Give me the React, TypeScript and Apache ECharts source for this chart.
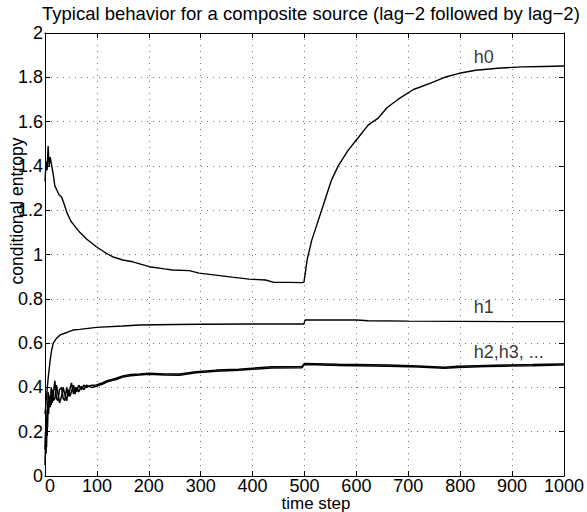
import React, { useEffect, useRef } from "react";
import * as echarts from "echarts";

const titleText = "Typical behavior for a composite source (lag\u22122 followed by lag\u22122)";
const xName = "time step";
const yName = "conditional entropy";

const h0T = [0, 2, 4, 6, 8, 10, 13, 16, 19, 23, 27, 32, 38, 42, 50, 60, 67, 80, 99, 115, 130, 150, 169, 201, 230, 246, 278, 297, 329, 360, 393, 425, 441, 470, 495, 499, 505, 514, 533, 552, 565, 584, 603, 623, 642, 660, 680, 710, 743, 770, 798, 830, 872, 920, 960, 1000];
const h0V = [1.33, 1.42, 1.38, 1.49, 1.4, 1.44, 1.4, 1.36, 1.31, 1.29, 1.27, 1.26, 1.22, 1.19, 1.15, 1.12, 1.1, 1.07, 1.035, 1.01, 0.99, 0.975, 0.967, 0.945, 0.935, 0.93, 0.927, 0.916, 0.907, 0.898, 0.889, 0.885, 0.874, 0.874, 0.873, 0.875, 0.975, 1.065, 1.2, 1.336, 1.4, 1.47, 1.526, 1.585, 1.616, 1.665, 1.7, 1.745, 1.774, 1.8, 1.818, 1.832, 1.841, 1.847, 1.849, 1.851];

const h1T = [0, 3, 6, 10, 13, 16, 22, 29, 42, 54, 67, 99, 150, 182, 250, 300, 400, 499, 501, 600, 623, 700, 800, 900, 1000];
const h1V = [0.28, 0.36, 0.44, 0.524, 0.57, 0.6, 0.621, 0.637, 0.648, 0.659, 0.662, 0.671, 0.677, 0.682, 0.684, 0.685, 0.686, 0.686, 0.704, 0.704, 0.701, 0.699, 0.698, 0.697, 0.697];

const h23T = [0, 1, 2, 3, 4, 5, 6, 7, 8, 10, 12, 14, 16, 19, 22, 25, 28, 32, 35, 38, 42, 45, 48, 51, 55, 58, 61, 65, 70, 75, 80, 90, 99, 110, 120, 137, 150, 165, 182, 201, 230, 259, 291, 330, 373, 437, 495, 500, 520, 565, 661, 720, 770, 795, 850, 885, 940, 993, 1000];
const h2V = [0.05, 0.14, 0.22, 0.13, 0.3, 0.22, 0.38, 0.28, 0.36, 0.31, 0.4, 0.33, 0.37, 0.43, 0.35, 0.34, 0.39, 0.4, 0.35, 0.34, 0.4, 0.36, 0.39, 0.42, 0.37, 0.4, 0.38, 0.41, 0.39, 0.41, 0.4, 0.41, 0.411, 0.42, 0.43, 0.441, 0.452, 0.458, 0.46, 0.464, 0.46, 0.46, 0.471, 0.478, 0.482, 0.493, 0.494, 0.508, 0.507, 0.504, 0.501, 0.497, 0.491, 0.495, 0.499, 0.501, 0.503, 0.506, 0.506];
const h3V = [0.12, 0.2, 0.1, 0.26, 0.18, 0.33, 0.3, 0.37, 0.31, 0.36, 0.32, 0.39, 0.34, 0.35, 0.41, 0.37, 0.33, 0.36, 0.4, 0.37, 0.34, 0.39, 0.36, 0.38, 0.41, 0.37, 0.4, 0.38, 0.405, 0.39, 0.41, 0.4, 0.405, 0.414, 0.425, 0.436, 0.447, 0.453, 0.456, 0.459, 0.456, 0.455, 0.466, 0.473, 0.477, 0.488, 0.489, 0.503, 0.502, 0.499, 0.496, 0.492, 0.486, 0.49, 0.494, 0.496, 0.498, 0.501, 0.501];

const labelNames = ["h0", "h1", "h2,h3, ..."];
const labelX = [826, 826, 826];
const labelY = [1.892, 0.761, 0.56];

const FONT = "'Liberation Sans', Arial, Helvetica, sans-serif";

function pairs(t: number[], v: number[]) {
  return t.map((x, i) => [x, v[i]]);
}

export default function App() {
  const ref = useRef<HTMLDivElement>(null);
  useEffect(() => {
    if (!ref.current) return;
    const chart = echarts.init(ref.current, undefined, { renderer: "svg" });
    const lineCommon = {
      type: "line" as const,
      showSymbol: false,
      symbol: "none",
      xAxisIndex: 0,
      yAxisIndex: 0,
      silent: true,
    };
    const axisLineStyle = { lineStyle: { color: "#000", width: 1 } };
    const tickStyle = { show: true, inside: true, length: 5, lineStyle: { color: "#000", width: 1 } };
    const gridLine = { show: true, lineStyle: { color: "#777", width: 1, type: [1, 5] as any } };
    chart.setOption({
      animation: false,
      backgroundColor: "#fff",
      title: {
        text: titleText,
        left: 42,
        top: 4,
        padding: 0,
        textStyle: { fontFamily: FONT, fontSize: 18.5, fontWeight: "normal", color: "#000" },
      },
      grid: { left: 45, right: 20, top: 33, bottom: 36, containLabel: false },
      xAxis: [
        {
          type: "value",
          min: 0,
          max: 1000,
          interval: 100,
          position: "bottom",
          axisLine: { show: true, onZero: false, ...axisLineStyle },
          axisTick: tickStyle,
          splitLine: gridLine,
          axisLabel: {
            show: true,
            margin: 2,
            alignMinLabel: "left",
            fontFamily: FONT,
            fontSize: 18,
            lineHeight: 15,
            color: "#000",
            formatter: (v: number) => String(v),
          },
        },
        {
          type: "value",
          min: 0,
          max: 1000,
          interval: 100,
          position: "top",
          axisLine: { show: true, onZero: false, ...axisLineStyle },
          axisTick: tickStyle,
          splitLine: { show: false },
          axisLabel: { show: false },
        },
      ],
      yAxis: [
        {
          type: "value",
          min: 0,
          max: 2,
          interval: 0.2,
          position: "left",
          axisLine: { show: true, onZero: false, ...axisLineStyle },
          axisTick: tickStyle,
          splitLine: gridLine,
          axisLabel: {
            show: true,
            margin: 2,
            fontFamily: FONT,
            fontSize: 18,
            color: "#000",
            formatter: (v: number) => String(Math.round(v * 10) / 10),
          },
        },
        {
          type: "value",
          min: 0,
          max: 2,
          interval: 0.2,
          position: "right",
          axisLine: { show: true, onZero: false, ...axisLineStyle },
          axisTick: tickStyle,
          splitLine: { show: false },
          axisLabel: { show: false },
        },
      ],
      series: [
        { ...lineCommon, name: "h0", data: pairs(h0T, h0V), lineStyle: { color: "#000", width: 1.4 } },
        { ...lineCommon, name: "h1", data: pairs(h1T, h1V), lineStyle: { color: "#000", width: 1.4 } },
        { ...lineCommon, name: "h2", data: pairs(h23T, h2V), lineStyle: { color: "#000", width: 1.5 } },
        { ...lineCommon, name: "h3", data: pairs(h23T, h3V), lineStyle: { color: "#000", width: 1.5 } },
        {
          type: "scatter",
          name: "labels",
          xAxisIndex: 0,
          yAxisIndex: 0,
          symbolSize: 0,
          silent: true,
          data: labelNames.map((n, i) => ({ name: n, value: [labelX[i], labelY[i]] })),
          label: {
            show: true,
            position: "right",
            distance: 0,
            formatter: (p: any) => p.name,
            fontFamily: FONT,
            fontSize: 18,
            color: "#000",
          },
        },
      ],
      graphic: [
        {
          type: "text",
          x: 17,
          y: 211,
          rotation: Math.PI / 2,
          style: {
            text: yName,
            fontFamily: FONT,
            fontSize: 17.5,
            fill: "#000",
            textAlign: "center",
            textVerticalAlign: "middle",
          },
        },
        {
          type: "text",
          x: 316,
          y: 503.5,
          style: {
            text: xName,
            fontFamily: FONT,
            fontSize: 17,
            lineHeight: 16,
            fill: "#000",
            textAlign: "center",
            textVerticalAlign: "middle",
          },
        },
      ],
    });
    return () => chart.dispose();
  }, []);
  return (
    <div
      ref={ref}
      style={{ position: "absolute", left: 0, top: 0, width: 587, height: 512 }}
    />
  );
}
